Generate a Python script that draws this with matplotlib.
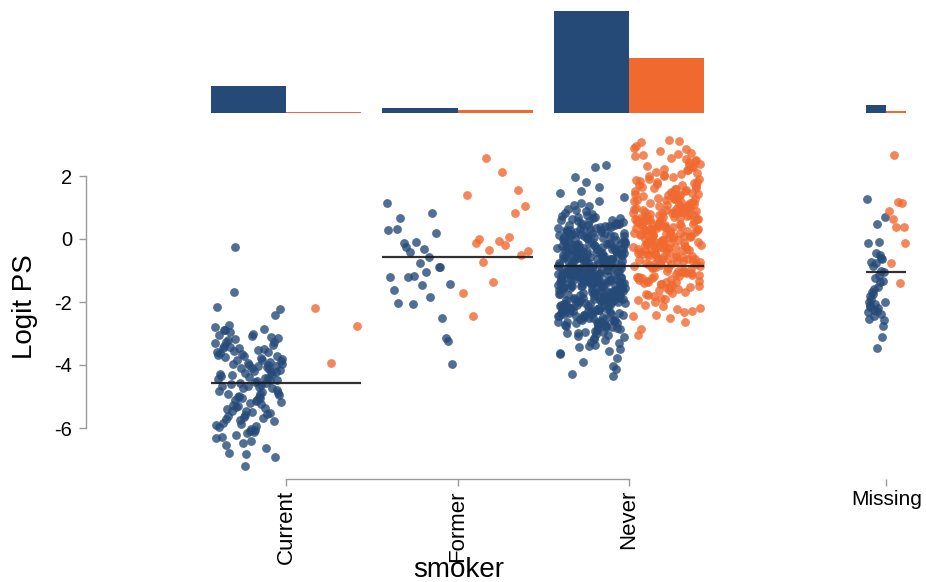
import numpy as np
import matplotlib
matplotlib.use("Agg")
import matplotlib.pyplot as plt

plt.rcParams['font.family'] = ['Liberation Sans', 'DejaVu Sans']

# smoker categories and their x positions (Missing sits apart)
categories = ["Current", "Former", "Never", "Missing"]
cat_pos = [1.0, 2.0, 3.0, 4.5]
half_width = [0.44, 0.44, 0.44, 0.117]

# counts shown by the bars on top
counts_ctrl = [148, 27, 560, 44]
counts_trt = [3, 16, 302, 10]

# horizontal reference line per category
line_vals = [-4.57, -0.57, -0.86, -1.05]

# logit propensity scores, control (blue) and treated (orange)
current_ctrl = [
    -4.52, -3.31, -5.87, -4.05, -2.90, -6.41, -3.72, -5.12, -4.63, -3.05,
    -5.58, -4.21, -2.73, -6.05, -3.88, -4.97, -5.36, -3.47, -4.38, -6.92,
    -3.96, -5.02, -2.17, -4.74, -3.58, -5.71, -4.11, -3.14, -6.22, -4.86,
    -3.63, -5.45, -4.29, -2.95, -5.93, -3.81, -4.58, -6.63, -3.40, -5.21,
    -4.02, -1.67, -4.91, -3.69, -5.64, -4.47, -3.22, -6.12, -4.16, -5.31,
    -2.85, -4.68, -3.93, -5.79, -4.33, -3.53, -6.33, -5.06, -4.00, -3.26,
    -5.50, -4.80, -0.25, -3.77, -5.98, -4.25, -3.10, -6.80, -4.55, -5.17,
    -3.45, -4.42, -5.84, -3.99, -2.41, -5.27, -4.70, -3.60, -6.48, -4.14,
    -5.40, -3.00, -4.95, -3.85, -5.69, -4.36, -6.17, -3.35, -4.60, -5.10,
    -2.78, -4.08, -5.55, -3.74, -6.02, -4.49, -3.16, -5.25, -4.83, -7.20,
    -3.90, -5.62, -4.19, -2.23, -5.01, -3.50, -6.27, -4.66, -3.28, -5.47,
    -4.04, -5.89, -3.66, -4.40, -6.55, -3.08, -4.88, -5.33, -3.83, -4.27,
    -6.83, -4.73, -3.42, -5.15, -3.97, -5.76, -4.57, -2.88, -6.10, -4.22,
    -3.55, -5.04, -4.45, -3.70, -5.52, -4.93,
]
current_trt = [-2.18, -2.77, -3.95]

former_ctrl = [
    -0.56, 1.13, -2.06, -0.89, 0.33, -1.46, -3.23, -0.24, 0.84, -1.21,
    -0.10, -2.50, 0.66, -1.04, -3.97, -0.42, 0.20, -1.62, -0.77, -3.14,
    -0.13, -1.83, 0.29, -1.16, -0.90, -2.04, -0.32, -1.42, -1.22,
]
former_trt = [
    2.56, -0.37, 2.13, -0.12, 1.57, -1.37, 1.41, 0.06, -0.73, 1.05,
    -0.06, -2.43, 0.84, -0.35, -1.70, -0.19, 0.01, -0.52,
]

never_ctrl = [
    -1.12, 0.34, -2.41, -0.63, -1.78, 0.07, -2.86, -0.95, -1.44, -0.21,
    -0.77, -1.93, 0.62, -1.28, -3.12, -0.38, -2.15, -1.06, 0.19, -1.61,
    -2.68, -0.52, -1.37, 0.88, -1.85, -0.11, -2.27, -0.84, -1.19, 0.41,
    -1.55, -3.41, -0.29, -0.99, 1.21, -2.03, -0.68, -1.72, 0.25, -2.52,
    -1.02, -0.46, -2.94, -1.31, 0.03, -1.66, -0.88, -2.21, 0.55, -1.49,
    -0.16, -2.74, -1.15, -3.78, -0.59, -1.97, 0.12, -1.25, -0.81, -2.36,
    0.71, -1.58, -0.34, -2.09, -1.08, 0.46, -2.61, -0.72, -1.81, -0.05,
    -1.40, -3.05, 0.29, -0.93, -1.69, -2.45, -0.25, 1.47, -1.21, -0.64,
    -2.18, -0.41, -1.52, 0.15, -2.79, -1.03, -0.57, -4.12, -1.88, 0.37,
    -0.86, -1.33, -2.31, 0.94, -0.18, -1.74, -2.99, -0.70, -1.17, 0.09,
    -2.57, -1.46, -0.31, -1.91, 0.52, -0.97, -2.12, -3.28, -0.49, -1.27,
    0.21, -1.63, -0.79, -2.39, -1.10, 2.30, -0.13, -1.99, -2.71, -0.61,
    -1.36, 0.44, -0.90, -2.24, -1.57, -0.27, -3.55, -1.06, 0.66, -1.83,
    -0.44, -2.48, -1.22, 0.02, -1.71, -0.82, -2.90, -1.41, 0.31, -0.66,
    -2.06, -1.14, -0.37, 1.09, -1.95, -2.64, -0.55, -1.30, -0.08, -3.18,
    -1.50, 0.58, -0.74, -2.33, -1.01, -1.79, 0.17, -2.83, -0.43, -1.24,
    -0.98, -2.19, 0.79, -1.60, -0.22, -1.38, -3.66, -0.67, -2.00, 0.27,
    -1.18, -0.53, -2.55, -1.86, 0.06, -0.89, -1.47, -2.28, 1.66, -0.30,
    -1.73, -0.14, -2.97, -1.07, 0.49, -2.11, -0.76, -1.54, -0.39, -4.35,
    0.13, -1.29, -2.42, -0.60, -1.90, 0.83, -1.11, -2.66, -0.20, -1.67,
    -0.83, -2.04, 0.38, -1.43, -3.35, -0.47, -1.20, -1.82, 0.00, -2.50,
    -1.62, -0.33, -2.25, 1.33, -0.94, -1.35, -2.77, -0.10, -1.76, 0.23,
    -0.58, -2.14, -1.04, 0.61, -1.56, -3.01, -0.28, -1.94, -0.80, -2.37,
    0.32, -1.26, -0.69, -2.59, -1.45, 0.10, -2.08, -0.92, -1.70, -3.48,
    -0.17, -1.84, 0.74, -2.30, -1.13, -0.51, -2.70, -1.39, 0.45, -0.87,
    -2.02, -1.59, -0.40, 1.98, -1.00, -2.44, -0.63, -1.77, 0.16, -2.92,
    -1.23, -0.24, -3.22, -1.51, 0.56, -0.73, -2.17, -1.09, -0.09, -1.87,
    0.40, -2.63, -0.85, -1.32, -1.96, 0.04, -2.35, -0.48, -4.02, -1.16,
    -0.62, -1.65, 1.15, -2.22, -0.35, -1.42, -2.84, -0.96, 0.28, -1.75,
    -2.47, -0.12, -1.05, -1.89, 0.67, -3.09, -0.54, -1.34, -2.13, 0.08,
    -1.48, -0.78, 0.20, -2.56, -1.19, -0.26, -1.68, -2.01, 0.92, -0.45,
    -3.62, -1.28, -0.65, -2.26, 0.35, -1.58, -0.91, -2.75, -0.07, -1.37,
    0.51, -1.92, -0.42, -1.12, -2.40, 0.14, -0.71, -1.80, -3.29, -0.19,
    -1.53, -2.10, 0.77, -0.88, -1.27, -2.62, -0.32, 1.52, -1.64, -0.56,
    -2.29, -1.02, 0.01, -1.44, -0.75, -2.95, -1.85, 0.43, -0.23, -1.21,
    -0.99, -2.53, -0.50, 1.04, -1.71, -1.15, -2.18, -0.15, -3.91, -0.82,
    0.26, -1.40, -2.34, -0.61, -1.98, 0.59, -1.08, -2.80, -0.36, -1.55,
    -0.70, -1.78, 2.36, -1.24, -2.07, -0.04, -0.95, -1.62, -2.46, 0.33,
    -1.31, -0.44, -3.14, -1.88, 0.70, -0.66, -2.23, -1.17, -0.28, -4.30,
    -2.72, 0.11, -1.49, -0.84, -1.95, -2.39, 0.47, -1.06, -0.55, -1.74,
    1.80, -0.31, -2.20, -1.36, -0.93, -3.44, 0.18, -1.60, -0.13, -2.58,
]
never_trt = [
    0.42, -0.73, 1.28, -1.35, 0.05, 2.21, -0.31, 0.87, -1.82, 1.63,
    -0.12, 0.66, -1.07, 2.78, 0.19, -0.58, 1.14, -2.27, 0.93, -0.40,
    1.71, -0.89, 0.31, -1.46, 0.74, 2.45, -0.17, -1.21, 1.36, 0.12,
    -0.64, 3.15, 0.55, -1.68, 1.05, -0.26, 0.81, 1.92, -0.95, 0.38,
    -1.29, 2.07, -0.47, 0.63, 1.48, -2.08, 0.24, -0.81, 2.62, 0.97,
    -0.05, 1.19, -1.55, 0.48, -0.69, 1.82, -1.13, 0.02, 2.33, -0.36,
    0.71, -1.93, 1.41, -0.21, 0.90, -2.52, 0.28, 1.57, -0.77, 2.90,
    -1.38, 0.59, -0.53, 1.23, 0.14, -1.04, 2.14, -0.09, 0.84, -1.74,
    1.09, -0.62, 0.35, 2.70, -1.23, 0.77, -0.30, 1.66, -2.31, 0.46,
    -0.85, 1.31, 0.09, -1.51, 1.99, -0.44, 0.67, -1.17, 2.52, 0.21,
    -0.19, 0.95, -1.86, 1.44, -0.71, 0.52, 2.27, -1.00, 0.16, -0.56,
    1.76, -1.32, 0.39, -0.14, 1.02, -2.14, 0.61, 3.12, -0.88, 1.27,
    0.06, -0.49, 1.53, -1.62, 0.83, -0.24, 2.01, -1.09, 0.44, -0.67,
    1.17, -2.01, 0.30, 2.58, -0.38, 0.72, -1.44, 1.88, -0.03, -0.92,
    0.57, 1.39, -1.25, 0.11, -0.60, 2.39, 0.88, -1.78, 1.00, -0.27,
    -3.05, 0.49, 1.61, -0.80, 0.26, -1.40, 2.85, -0.11, 1.21, -0.51,
    0.79, -1.15, 0.17, 1.85, -0.35, -2.40, 0.64, 1.45, -0.75, 2.19,
    -0.02, 0.99, -1.58, 0.33, 1.12, -0.63, 2.66, -1.06, 0.54, -0.20,
    1.34, -0.83, 0.08, -1.91, 1.70, 0.41, -0.45, 2.10, -1.27, 0.86,
    -0.33, 0.60, 1.51, -2.22, 0.22, -0.70, 1.07, 3.08, -0.98, 0.36,
    -1.48, 1.96, -0.16, 0.75, -0.57, 1.25, -1.19, 0.13, 2.47, -0.42,
    0.91, -2.62, 0.50, -0.87, 1.59, -0.07, 2.29, -1.36, 0.68, 1.03,
    -0.28, 1.42, -1.71, 0.27, -0.65, 0.82, 2.96, -1.02, 0.04, 1.78,
    -0.93, 0.45, -0.13, 1.30, -2.18, 0.70, -0.48, 1.15, 2.04, -1.24,
    0.18, -0.78, 1.67, -1.52, 0.58, 2.55, -0.25, 0.96, -1.11, 0.32,
    1.47, -0.39, -2.86, 0.85, -0.61, 1.90, 0.10, -1.33, 2.36, -0.04,
    0.53, 1.10, -0.90, 0.23, -1.63, 1.37, -0.22, 0.76, -2.46, 1.58,
    -0.54, 2.74, 0.37, -1.20, 0.94, -0.10, 1.81, -0.79, 0.01, 2.18,
    -1.42, 0.65, 1.26, -0.34, 0.47,
]

missing_ctrl = [
    -1.14, 1.27, -2.25, -0.61, -1.81, 0.49, -2.57, -0.85, -1.35, -0.14,
    -2.07, -3.10, -0.74, -1.53, 0.70, -2.43, -1.03, -1.99, -0.43, -2.75,
    -1.67, -0.10, -2.33, -1.25, -0.65, -2.15, -3.47, -1.05, -1.76, -0.51,
    -2.55, -0.77, -1.32, -1.90, -2.20, -2.00, -1.60, -2.38, -2.10, -2.28,
]
missing_trt = [2.66, -0.14, 1.18, -0.75, 1.13, 0.39, 0.89, -1.39, 0.64, 0.39]

ctrl_groups = [current_ctrl, former_ctrl, never_ctrl, missing_ctrl]
trt_groups = [current_trt, former_trt, never_trt, missing_trt]

BLUE = "#264a78"
ORANGE = "#f0692f"
AXIS_GREY = "#9a9a9a"

W, H = 926, 582
fig = plt.figure(figsize=(W / 100, H / 100), dpi=100)

# pixel layout of the scatter panel
left_px, right_px, top_px, bottom_px = 86, 926, 135, 479
ax = fig.add_axes([left_px / W, 1 - bottom_px / H,
                   (right_px - left_px) / W, (bottom_px - top_px) / H])

step = 171.5  # pixels between neighbouring categories
ax.set_xlim(1 - (286 - left_px) / step, 1 + (right_px - 286) / step)
ax.set_ylim(-(bottom_px - 239) / 31.5, (239 - top_px) / 31.5)


def jitter(n, hw):
    # evenly spread offsets (golden-ratio sequence) inside one half of a category
    frac = (np.arange(n) * 0.6180339887 + 0.37) % 1.0
    return hw * (0.05 + 0.9 * frac)


for c, hw, yc, yt in zip(cat_pos, half_width, ctrl_groups, trt_groups):
    ax.scatter(c - jitter(len(yc), hw), yc, s=40, color=BLUE, alpha=0.8,
               linewidths=0, zorder=2)
    ax.scatter(c + jitter(len(yt), hw), yt, s=40, color=ORANGE, alpha=0.8,
               linewidths=0, zorder=2)

for c, hw, v in zip(cat_pos, half_width, line_vals):
    ax.plot([c - hw, c + hw], [v, v], color="#1a1a1a", lw=1.6, alpha=0.9,
            zorder=3, solid_capstyle="butt")

# axes styling
for side in ["top", "right"]:
    ax.spines[side].set_visible(False)
ax.spines["left"].set_bounds(-6, 2)
ax.spines["bottom"].set_bounds(1, 3)
for side in ["left", "bottom"]:
    ax.spines[side].set_color(AXIS_GREY)
    ax.spines[side].set_linewidth(1.0)

ax.set_yticks([-6, -4, -2, 0, 2])
ax.set_yticklabels(["-6", "-4", "-2", "0", "2"])
ax.tick_params(axis="y", length=5, width=1, color=AXIS_GREY, pad=5,
               labelsize=14.5, labelcolor="black")

ax.set_xticks(cat_pos)
ax.set_xticklabels(categories)
ax.tick_params(axis="x", length=5, width=1, color=AXIS_GREY, pad=3,
               labelsize=16, labelcolor="black")
for lbl in ax.get_xticklabels()[:3]:
    lbl.set_rotation(90)
    lbl.set_va("top")
    lbl.set_ha("center")
miss = ax.get_xticklabels()[3]
miss.set_rotation(0)
miss.set_fontsize(15)

fig.text(25 / W, 1 - 307 / H, "Logit PS", rotation=90, ha="center",
         va="center", fontsize=20)
fig.text(459 / W, 1 - 577 / H, "smoker", ha="center", va="baseline",
         fontsize=20)

# count bars above the scatter panel
bar_bottom_px, bar_top_px = 113, 11
axb = fig.add_axes([left_px / W, 1 - bar_bottom_px / H,
                    (right_px - left_px) / W, (bar_bottom_px - bar_top_px) / H])
axb.set_xlim(ax.get_xlim())
axb.set_ylim(0, max(counts_ctrl))
for c, hw, nc, nt in zip(cat_pos, half_width, counts_ctrl, counts_trt):
    axb.bar(c - hw, nc, width=hw, align="edge", color=BLUE, linewidth=0)
    axb.bar(c, nt, width=hw, align="edge", color=ORANGE, linewidth=0)
axb.axis("off")

fig.savefig("out.png", dpi=100)
